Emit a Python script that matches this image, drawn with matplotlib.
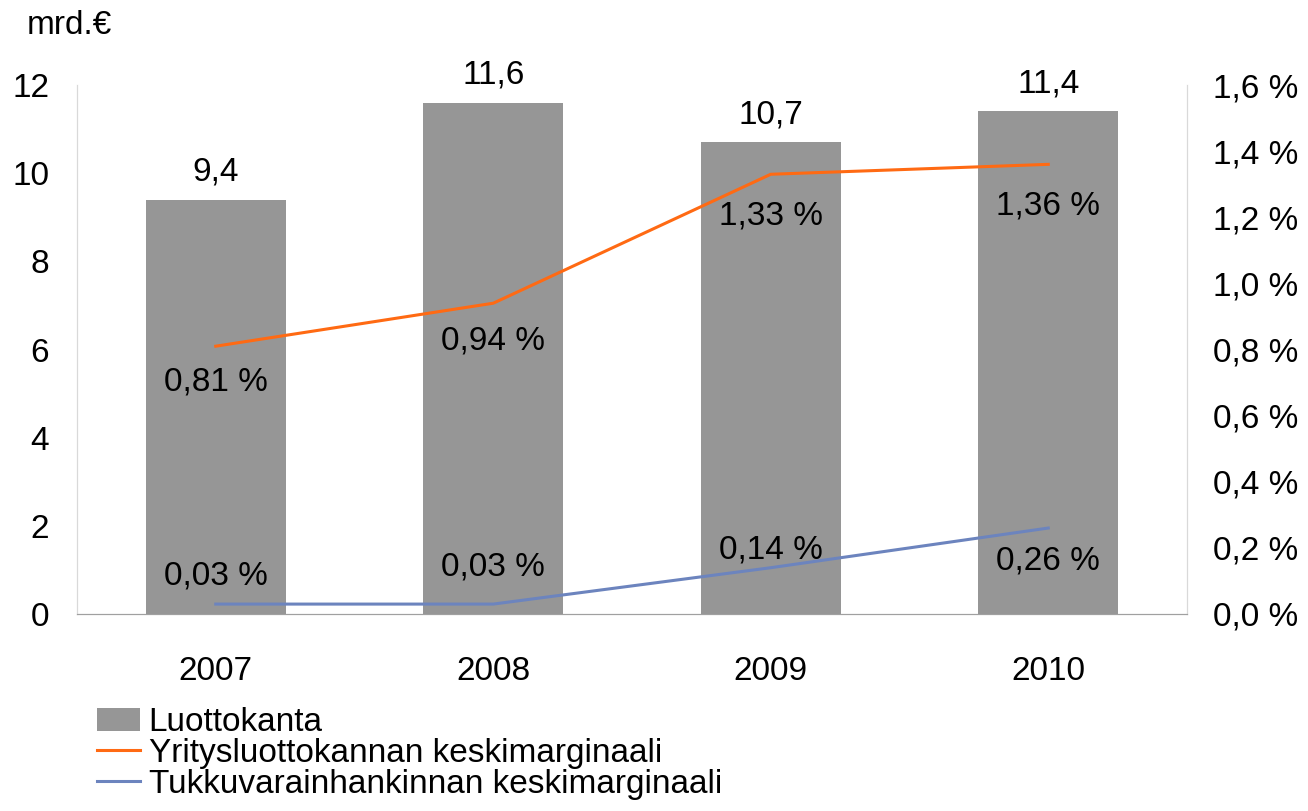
import matplotlib.pyplot as plt

plt.rcParams['font.family'] = ['Liberation Sans', 'DejaVu Sans']

years = ['2007', '2008', '2009', '2010']
luottokanta = [9.4, 11.6, 10.7, 11.4]
yritys = [0.81, 0.94, 1.33, 1.36]
tukku = [0.03, 0.03, 0.14, 0.26]

# label offsets in points (label placement as in the original)
yritys_off = [-26, -27, -30, -30]
tukku_off = [20, 27, 13, -24]

FS = 24

fig = plt.figure(figsize=(13.08, 8.11), dpi=100)
ax = fig.add_axes([77 / 1308, 1 - 614 / 811, 1110 / 1308, 529 / 811])
ax2 = ax.twinx()

x = range(len(years))
bars = ax.bar(x, luottokanta, width=0.505, color='#969696', label='Luottokanta')
for xi, v in zip(x, luottokanta):
    ax.annotate(f'{v:.1f}'.replace('.', ','), (xi, v), xytext=(0, 20),
                textcoords='offset points', ha='center', va='center', fontsize=FS)

l1, = ax2.plot(x, yritys, color='#FF6A13', lw=2.2,
               label='Yritysluottokannan keskimarginaali')
l2, = ax2.plot(x, tukku, color='#6C84BE', lw=2.2,
               label='Tukkuvarainhankinnan keskimarginaali')
for xi, v, o in zip(x, yritys, yritys_off):
    ax2.annotate(f'{v:.2f} %'.replace('.', ','), (xi, v), xytext=(0, o),
                 textcoords='offset points', ha='center', va='center', fontsize=FS)
for xi, v, o in zip(x, tukku, tukku_off):
    ax2.annotate(f'{v:.2f} %'.replace('.', ','), (xi, v), xytext=(0, o),
                 textcoords='offset points', ha='center', va='center', fontsize=FS)

ax.set_xlim(-0.5, 3.5)
ax.set_ylim(0, 12)
ax2.set_ylim(0, 1.6)
ax.set_xticks(list(x))
ax.set_xticklabels(years, fontsize=FS)
ax.set_yticks(range(0, 13, 2))
ax.set_yticklabels([str(t) for t in range(0, 13, 2)], fontsize=FS)
ax2.set_yticks([i * 0.2 for i in range(9)])
ax2.set_yticklabels([f'{i * 0.2:.1f} %'.replace('.', ',') for i in range(9)], fontsize=FS)

for a in (ax, ax2):
    a.tick_params(length=0)
    a.spines['top'].set_visible(False)
    a.spines['left'].set_color('#D9D9D9')
    a.spines['right'].set_color('#D9D9D9')
    a.spines['bottom'].set_color('#A0A0A0')
ax.tick_params(axis='x', pad=30)
ax.tick_params(axis='y', pad=20)
ax2.tick_params(axis='y', pad=19)

fig.text(27 / 1308, 1 - 25 / 811, 'mrd.€', fontsize=FS, va='center', ha='left')

fig.legend(handles=[bars, l1, l2], loc='upper left',
           bbox_to_anchor=(97 / 1308, 1 - 707 / 811), frameon=False,
           fontsize=FS, handlelength=1.3, handletextpad=0.25,
           labelspacing=0.0, borderpad=0, borderaxespad=0)

fig.savefig('out.png', dpi=100)
